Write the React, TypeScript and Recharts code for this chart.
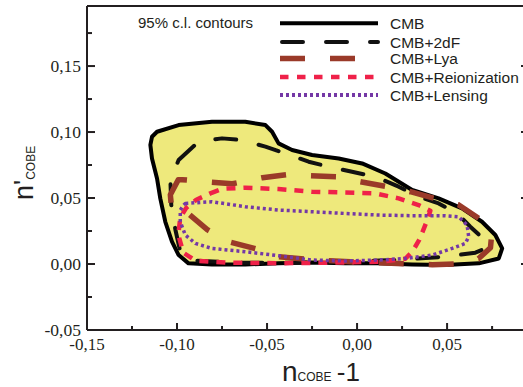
import { Scatter, ScatterChart, XAxis, YAxis } from 'recharts'

type Pair = [number, number]

// 95% c.l. contours as [n_COBE - 1, n'_COBE]
const cmb: Pair[] = [
  [-0.1139, 0.0964], [-0.1111, 0.1002], [-0.0991, 0.1053], [-0.0806, 0.1078], [-0.0621, 0.1078],
  [-0.0509, 0.1053], [-0.0472, 0.1002], [-0.0436, 0.0914], [-0.0361, 0.0864], [-0.025, 0.0826],
  [-0.0102, 0.08], [0.0028, 0.0762], [0.0157, 0.0686], [0.0306, 0.0561], [0.0453, 0.0497],
  [0.0583, 0.0421], [0.0694, 0.032], [0.0768, 0.022], [0.0806, 0.0118], [0.0787, 0.0042],
  [0.0676, 0.0005], [0.049, -0.0008], [0.0306, -0.0003], [0.012, 0.0005], [-0.0065, 0.0005],
  [-0.025, 0.0012], [-0.0436, 0.0005], [-0.0621, -0.0003], [-0.0806, -0.0003], [-0.0936, 0.0005],
  [-0.0991, 0.0068], [-0.1028, 0.0169], [-0.1065, 0.032], [-0.1093, 0.0497], [-0.1111, 0.0648],
  [-0.1139, 0.08], [-0.1148, 0.0902],
]

const cmb2dF: Pair[] = [
  [-0.0991, 0.0788], [-0.088, 0.0927], [-0.075, 0.0952], [-0.0639, 0.0939], [-0.0509, 0.0889],
  [-0.0398, 0.0838], [-0.0269, 0.0775], [-0.0158, 0.0737], [-0.0028, 0.0699], [0.0102, 0.0661],
  [0.0231, 0.0586], [0.0342, 0.051], [0.0453, 0.0459], [0.0556, 0.0383], [0.0629, 0.0283],
  [0.0707, 0.0184], [0.0724, 0.0123], [0.0657, 0.0086], [0.049, 0.0055], [0.0241, 0.0033],
  [-0.0037, 0.0017], [-0.0315, 0.001], [-0.0648, 0.001], [-0.0898, 0.0025], [-0.0982, 0.0093],
  [-0.1009, 0.026], [-0.1032, 0.0449], [-0.1037, 0.0639],
]

const cmbLya: Pair[] = [
  [-0.0993, 0.0639], [-0.1037, 0.0525], [-0.1032, 0.0442], [-0.1004, 0.0396], [-0.0937, 0.0381],
  [-0.0832, 0.026], [-0.0715, 0.0169], [-0.0565, 0.0116], [-0.0437, 0.0055], [-0.0259, 0.0033],
  [-0.0037, 0.0017], [0.0268, 0.0002], [0.0418, -0.0005], [0.0557, 0.0002], [0.0674, 0.004],
  [0.0741, 0.0123], [0.0746, 0.0199], [0.0679, 0.0343], [0.0563, 0.0449], [0.0435, 0.0495],
  [0.0296, 0.0548], [0.0168, 0.0586], [0.0018, 0.0623], [-0.0109, 0.0661], [-0.0259, 0.0669],
  [-0.0387, 0.0677], [-0.0526, 0.0654], [-0.0693, 0.0608], [-0.0843, 0.0623], [-0.0971, 0.0639],
]

const cmbReion: Pair[] = [
  [-0.0815, 0.0535], [-0.0748, 0.057], [-0.0621, 0.0578], [-0.0437, 0.0568], [-0.025, 0.0548],
  [-0.0065, 0.0542], [0.0102, 0.0535], [0.0231, 0.0497], [0.0342, 0.0447], [0.0407, 0.0404],
  [0.0391, 0.0336], [0.0346, 0.0184], [0.0307, 0.0093], [0.0268, 0.004], [0.0129, 0.0017],
  [-0.0148, 0.001], [-0.0426, 0.0006], [-0.0704, 0.001], [-0.0898, 0.0025], [-0.0965, 0.0086],
  [-0.0993, 0.0222], [-0.0982, 0.0351], [-0.0948, 0.0427], [-0.0893, 0.0487],
]

const cmbLensing: Pair[] = [
  [-0.0954, 0.0459], [-0.0806, 0.0472], [-0.0621, 0.0434], [-0.0436, 0.0409], [-0.025, 0.0396],
  [-0.0065, 0.0383], [0.012, 0.0371], [0.0306, 0.0366], [0.049, 0.0366], [0.0564, 0.0358],
  [0.0611, 0.0295], [0.062, 0.0207], [0.0602, 0.0156], [0.0528, 0.0118], [0.0417, 0.0068],
  [0.0268, 0.0042], [0.012, 0.003], [-0.0065, 0.0023], [-0.025, 0.003], [-0.0436, 0.0063],
  [-0.0621, 0.0093], [-0.0806, 0.0118], [-0.0898, 0.0156], [-0.0954, 0.022], [-0.0982, 0.032],
  [-0.0982, 0.0409], [-0.0963, 0.0447],
]

const seriesNames = ['CMB', 'CMB+2dF', 'CMB+Lya', 'CMB+Reionization', 'CMB+Lensing']
const xTicks = [-0.15, -0.125, -0.1, -0.075, -0.05, -0.025, 0, 0.025, 0.05, 0.075]
const yTicks = [-0.05, -0.025, 0, 0.025, 0.05, 0.075, 0.1, 0.125, 0.15, 0.175]
const xMajor = [-0.15, -0.1, -0.05, 0, 0.05]
const yMajor = [-0.05, 0, 0.05, 0.1, 0.15]

const toPoints = (d: Pair[]) => d.map(([x, y]) => ({ x, y }))

const styles = [
  { data: cmb, stroke: '#000000', width: 4, dash: undefined, cap: 'butt', fill: '#eee97c' },
  { data: cmb2dF, stroke: '#111111', width: 4, dash: '21 23', cap: 'round', fill: 'none' },
  { data: cmbLya, stroke: '#9a3a29', width: 5.5, dash: '25 25', cap: 'butt', fill: 'none' },
  { data: cmbReion, stroke: '#ef2149', width: 4.5, dash: '9 8', cap: 'butt', fill: 'none' },
  { data: cmbLensing, stroke: '#7438a6', width: 3.5, dash: '3 3', cap: 'butt', fill: 'none' },
]

const ink = '#231f20'
const serif = "'Liberation Serif', 'Times New Roman', serif"
const sans = "'Liberation Sans', Arial, sans-serif"
const fmt = (v: number) => v.toFixed(2).replace('.', ',')
const isMajor = (list: number[], v: number) => list.some((m) => Math.abs(m - v) < 1e-9)

function BottomTick({ x, y, payload }: any) {
  const major = isMajor(xMajor, payload.value)
  return (
    <g>
      <line x1={x} x2={x} y1={y} y2={y - (major ? 7 : 4)} stroke={ink} strokeWidth={2} />
      {major && (
        <text x={x} y={y + 20} textAnchor='middle' style={{ fontFamily: serif, fontSize: 17 }} fill={ink}>
          {fmt(payload.value)}
        </text>
      )}
    </g>
  )
}

function TopTick({ x, y, payload }: any) {
  const major = isMajor(xMajor, payload.value)
  return <line x1={x} x2={x} y1={y} y2={y + (major ? 7 : 4)} stroke={ink} strokeWidth={2} />
}

function LeftTick({ x, y, payload }: any) {
  const major = isMajor(yMajor, payload.value)
  return (
    <g>
      <line x1={x} x2={x + (major ? 8 : 5)} y1={y} y2={y} stroke={ink} strokeWidth={2} />
      {major && (
        <text x={x - 6} y={y + 5.5} textAnchor='end' style={{ fontFamily: serif, fontSize: 17.5 }} fill={ink}>
          {fmt(payload.value)}
        </text>
      )}
    </g>
  )
}

function RightTick({ x, y, payload }: any) {
  const major = isMajor(yMajor, payload.value)
  return <line x1={x} x2={x - (major ? 8 : 5)} y1={y} y2={y} stroke={ink} strokeWidth={2} />
}

const rowY = [23.3, 42, 58.5, 77, 95]

export default function App() {
  return (
    <div style={{ position: 'absolute', left: 0, top: 0, width: 523, height: 387, overflow: 'hidden', background: '#fff' }}>
      <ScatterChart width={540} height={387} margin={{ top: 5, right: 10, bottom: 56, left: 86 }}>
        <XAxis
          type='number'
          dataKey='x'
          domain={[-0.15, 0.0955]}
          ticks={xTicks}
          interval={0}
          tickSize={0}
          tickMargin={0}
          tickLine={false}
          tick={<BottomTick />}
          height={1}
          allowDataOverflow
          axisLine={{ stroke: ink, strokeWidth: 2 }}
        />
        <XAxis
          xAxisId='t'
          orientation='top'
          type='number'
          domain={[-0.15, 0.0955]}
          ticks={xTicks}
          interval={0}
          tickSize={0}
          tickMargin={0}
          tickLine={false}
          tick={<TopTick />}
          height={1}
          allowDataOverflow
          axisLine={{ stroke: ink, strokeWidth: 2 }}
        />
        <YAxis
          type='number'
          dataKey='y'
          domain={[-0.05, 0.1955]}
          ticks={yTicks}
          interval={0}
          tickSize={0}
          tickMargin={0}
          tickLine={false}
          tick={<LeftTick />}
          width={1}
          allowDataOverflow
          axisLine={{ stroke: ink, strokeWidth: 2 }}
        />
        <YAxis
          yAxisId='r'
          orientation='right'
          type='number'
          domain={[-0.05, 0.1955]}
          ticks={yTicks}
          interval={0}
          tickSize={0}
          tickMargin={0}
          tickLine={false}
          tick={<RightTick />}
          width={1}
          allowDataOverflow
          axisLine={{ stroke: ink, strokeWidth: 2 }}
        />
        {styles.map((s, i) => (
          <Scatter
            key={seriesNames[i]}
            name={seriesNames[i]}
            data={toPoints(s.data)}
            isAnimationActive={false}
            shape={() => <g />}
            lineType='joint'
            lineJointType='linearClosed'
            line={{
              stroke: s.stroke,
              strokeWidth: s.width,
              strokeDasharray: s.dash,
              strokeLinecap: s.cap,
              strokeLinejoin: 'round',
              fill: s.fill,
            }}
          />
        ))}
        <g style={{ fontFamily: sans }} fill={ink}>
          <text x={138} y={28} fontSize={15}>95% c.l. contours</text>
          {styles.map((s, i) => (
            <g key={seriesNames[i]}>
              <line
                x1={s.cap === 'round' ? 282 : 280}
                x2={378}
                y1={rowY[i]}
                y2={rowY[i]}
                stroke={s.stroke}
                strokeWidth={i === 4 ? 4 : s.width}
                strokeDasharray={i === 3 ? '8.5 8.5' : s.dash}
                strokeLinecap={s.cap as any}
              />
              <text x={390} y={rowY[i] + 5.5} fontSize={15.5}>{seriesNames[i]}</text>
            </g>
          ))}
          <text x={282} y={381} fontSize={28}>
            n<tspan fontSize={12}>COBE</tspan><tspan fontSize={26} dx={-2}> -1</tspan>
          </text>
          <text transform='translate(33,200) rotate(-90)' fontSize={27}>
            n'<tspan fontSize={12} dy={2}>COBE</tspan>
          </text>
        </g>
      </ScatterChart>
    </div>
  )
}
